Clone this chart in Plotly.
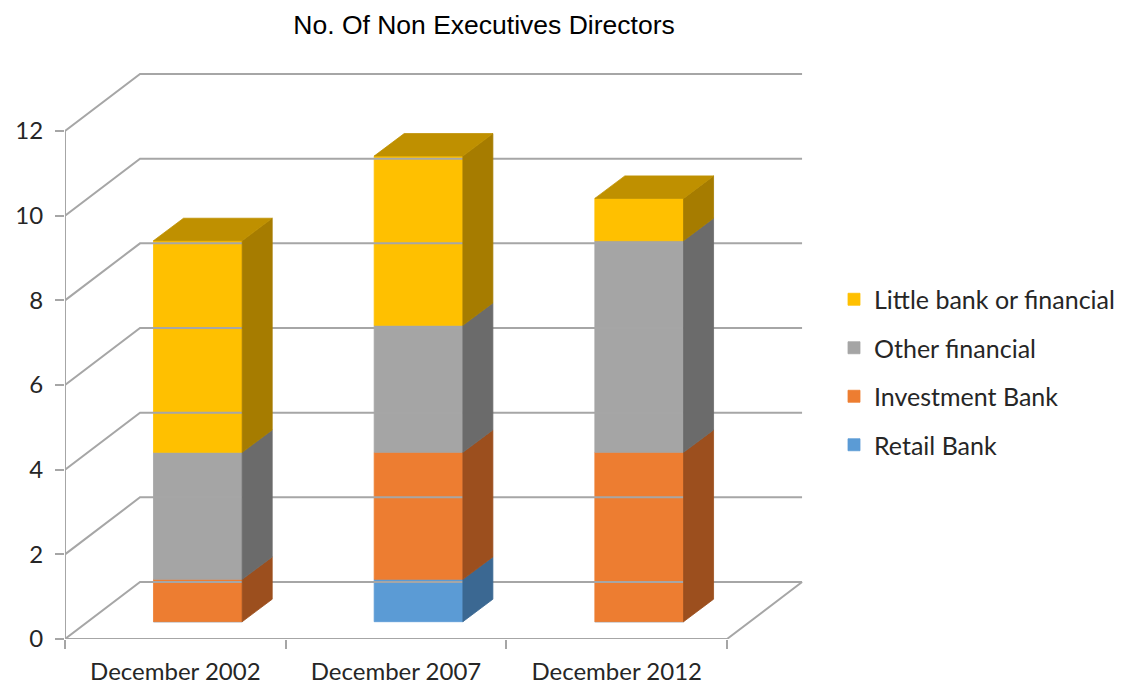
import plotly.graph_objects as go

# ---- data ----
categories = ["December 2002", "December 2007", "December 2012"]
series_names = ["Retail Bank", "Investment Bank", "Other financial", "Little bank or financial"]
retail_bank = [0, 1, 0]
investment_bank = [1, 3, 4]
other_financial = [3, 3, 5]
little_bank = [5, 4, 1]
y_ticks = [0, 2, 4, 6, 8, 10, 12]

series_values = [retail_bank, investment_bank, other_financial, little_bank]
front_colors = ["#5B9BD5", "#ED7D31", "#A5A5A5", "#FFC000"]
side_colors = ["#3B6892", "#9C4F1E", "#6B6B6B", "#A67C00"]
top_colors = ["#4A84B8", "#C0652A", "#8C8C8C", "#BF9000"]

# ---- pseudo-3D geometry (in axis units) ----
BAR_W = 0.402
OFF_X, OFF_Y = 0.102, 0.409
DEP_X, DEP_Y = 0.136, 0.531
WALL_X, WALL_Y = 0.340, 1.347
GRID = "#A6A6A6"
TXT = "#262626"

fig = go.Figure()

gx, gy = [], []
for t in y_ticks:
    gx += [-0.5, -0.5 + WALL_X, 2.5 + WALL_X, None]
    gy += [t, t + WALL_Y, t + WALL_Y, None]
gx += [-0.5, 2.5, 2.5 + WALL_X, None]
gy += [0, 0, WALL_Y, None]
gx += [-0.5, -0.5, None]
gy += [0, y_ticks[-1], None]
fig.add_trace(go.Scatter(x=gx, y=gy, mode="lines", line=dict(color=GRID, width=2),
                         hoverinfo="skip", showlegend=False))

n = len(categories)
bases = [[0] * n]
for s in series_values[:-1]:
    bases.append([b + v for b, v in zip(bases[-1], s)])
totals = [bases[-1][i] + series_values[-1][i] for i in range(n)]

for k, (name, vals) in enumerate(zip(series_names, series_values)):
    base = bases[k]
    fig.add_trace(go.Bar(
        x=[i + OFF_X for i in range(n)], y=vals, base=[b + OFF_Y for b in base],
        width=BAR_W, marker=dict(color=front_colors[k], line=dict(width=0.8, color=front_colors[k])),
        name=name, legendgroup=name, legendrank=len(series_names) - k,
        showlegend=True, hoverinfo="skip"))
    sx, sy = [], []
    tx, ty = [], []
    for i in range(n):
        if vals[i] <= 0:
            continue
        x0 = i + OFF_X + BAR_W / 2
        y0 = base[i] + OFF_Y
        y1 = base[i] + vals[i] + OFF_Y
        sx += [x0, x0, x0 + DEP_X, x0 + DEP_X, x0, None]
        sy += [y0, y1, y1 + DEP_Y, y0 + DEP_Y, y0, None]
        if abs(base[i] + vals[i] - totals[i]) < 1e-9:
            xl = i + OFF_X - BAR_W / 2
            tx += [xl, x0, x0 + DEP_X, xl + DEP_X, xl, None]
            ty += [y1, y1, y1 + DEP_Y, y1 + DEP_Y, y1, None]
    if sx:
        fig.add_trace(go.Scatter(x=sx, y=sy, mode="lines", fill="toself",
                                 fillcolor=side_colors[k], line=dict(width=0.8, color=side_colors[k]),
                                 hoverinfo="skip", showlegend=False, legendgroup=name))
    if tx:
        fig.add_trace(go.Scatter(x=tx, y=ty, mode="lines", fill="toself",
                                 fillcolor=top_colors[k], line=dict(width=0.8, color=top_colors[k]),
                                 hoverinfo="skip", showlegend=False, legendgroup=name))

# the page body has an 8px margin; the figure is placed to compensate
fig.update_layout(
    width=1116, height=679,
    margin=dict(l=57, r=314, t=52, b=48),
    paper_bgcolor="white", plot_bgcolor="white",
    barmode="overlay",
    title=dict(text="No. Of Non Executives Directors", x=476 / 1116, xref="container", xanchor="center",
               y=1 - 17 / 679, yref="container", yanchor="middle",
               font=dict(family="Liberation Sans, Arial", size=26.5, color="black")),
    font=dict(family="Lato", color=TXT),
    legend=dict(x=826 / 1116, xref="container", xanchor="left",
                y=1 - 364 / 679, yref="container", yanchor="middle",
                traceorder="grouped", tracegroupgap=13,
                font=dict(family="Lato", size=25, color=TXT), bgcolor="rgba(0,0,0,0)"),
    showlegend=True,
)
fig.update_xaxes(range=[-0.5, 2.876], showgrid=False, zeroline=False, showline=False,
                 automargin=False,
                 tickmode="array", tickvals=list(range(n)), ticktext=categories,
                 ticks="", tickfont=dict(family="Lato", size=24, color=TXT),
                 ticklabelstandoff=16,
                 minor=dict(tickmode="array", tickvals=[-0.5, 0.5, 1.5, 2.5], ticks="outside",
                            ticklen=9, tickwidth=2, tickcolor=GRID, showgrid=False))
fig.update_yaxes(range=[0, 13.678], showgrid=False, zeroline=False, showline=False,
                 automargin=False,
                 tickmode="array", tickvals=y_ticks, ticks="outside", ticklen=9, tickwidth=2,
                 tickcolor=GRID, tickfont=dict(family="Lato", size=24, color=TXT),
                 ticklabelstandoff=7)

fig.write_html("out.html")
